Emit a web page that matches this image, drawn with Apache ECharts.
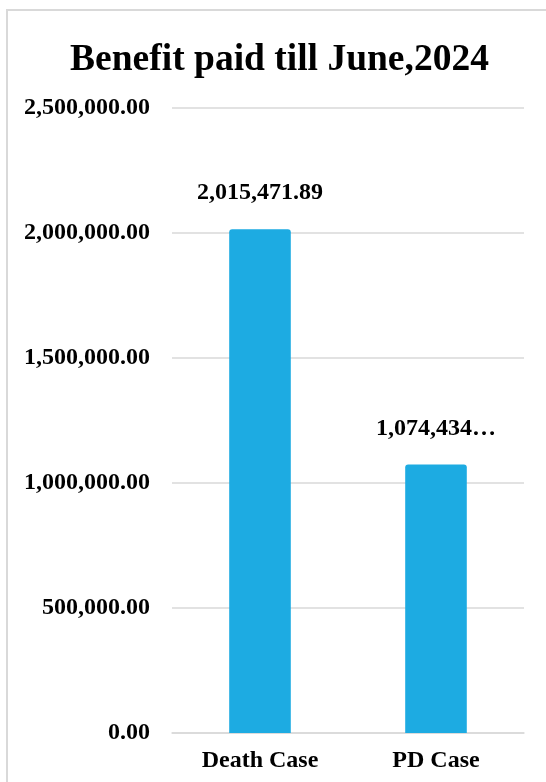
<!DOCTYPE html>
<html>
<head>
<meta charset="utf-8">
<script src="https://cdn.jsdelivr.net/npm/echarts@6/dist/echarts.min.js"></script>
<style>
  html, body { margin: 0; padding: 0; background: #ffffff; overflow: hidden; width: 546px; height: 782px; }
  #frame { position: absolute; left: 6px; top: 9px; width: 560px; height: 800px; border: 2px solid #d9d9d9; box-sizing: border-box; }
  #chart { position: absolute; left: 0; top: 0; width: 559px; height: 782px; }
</style>
</head>
<body>
<div id="frame"></div>
<div id="chart"></div>
<script>
// Benefit paid per case type
const categories = ['Death Case', 'PD Case'];
const benefitPaid = [2015471.89, 1074434.00];
const yTicks = { min: 0, max: 2500000, interval: 500000 };

const SERIF = '"Liberation Serif", "Times New Roman", serif';

function money(v) {
  return Number(v).toLocaleString('en-US', { minimumFractionDigits: 2, maximumFractionDigits: 2 });
}

const chart = echarts.init(document.getElementById('chart'), null, { renderer: 'canvas' });

// the narrower PD column clips its label with an ellipsis
const barData = benefitPaid.map((v, i) => i === 1
  ? { value: v, label: { width: 122, overflow: 'truncate', ellipsis: '…' } }
  : { value: v });

chart.setOption({
  animation: false,
  title: {
    text: 'Benefit paid till June,2024',
    left: 'center',
    top: 36,
    textStyle: { fontFamily: SERIF, fontWeight: 'bold', fontSize: 37.5, color: '#000000' }
  },
  grid: { left: 172, right: 35, top: 108, bottom: 49, containLabel: false },
  xAxis: {
    type: 'category',
    data: categories,
    axisTick: { show: false },
    axisLine: { show: true, lineStyle: { color: '#d9d9d9', width: 1.5 } },
    axisLabel: { margin: 16, fontFamily: SERIF, fontWeight: 'bold', fontSize: 24, color: '#000000' }
  },
  yAxis: {
    type: 'value',
    min: yTicks.min,
    max: yTicks.max,
    interval: yTicks.interval,
    axisLine: { show: false },
    axisTick: { show: false },
    splitLine: { lineStyle: { color: '#d9d9d9', width: 1.5 } },
    axisLabel: { margin: 22, fontFamily: SERIF, fontWeight: 'bold', fontSize: 24, color: '#000000', formatter: money }
  },
  series: [{
    type: 'bar',
    data: barData,
    barWidth: '35%',
    itemStyle: { color: '#1dabe2', borderRadius: [3, 3, 0, 0] },
    label: {
      show: true,
      position: 'top',
      distance: 24,
      fontFamily: SERIF,
      fontWeight: 'bold',
      fontSize: 24,
      color: '#000000',
      formatter: p => money(p.value)
    }
  }]
});
</script>
</body>
</html>
